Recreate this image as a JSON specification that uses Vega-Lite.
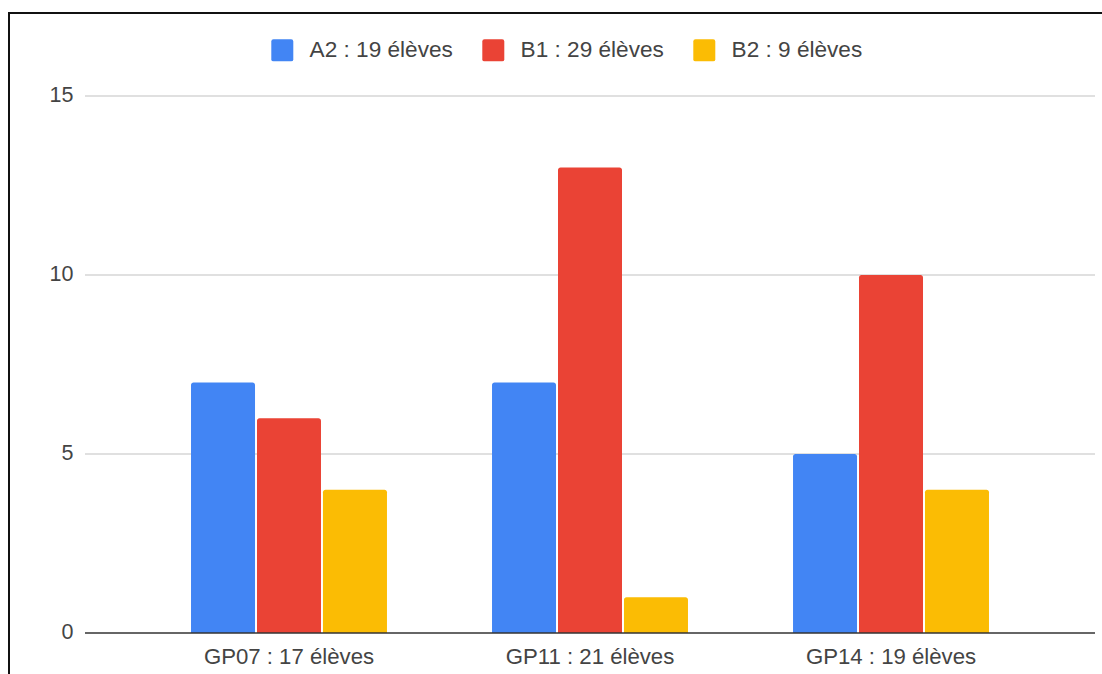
{
  "$schema": "https://vega.github.io/schema/vega-lite/v6.json",
  "autosize": {"type": "none"},
  "padding": {"left": 9, "top": 13, "right": -69, "bottom": -39},
  "width": 1162,
  "height": 700,
  "background": "#ffffff",
  "config": {
    "view": {"stroke": "#111111", "strokeWidth": 2},
    "font": "Liberation Sans"
  },
  "datasets": {
    "bars": [
      {"group": "GP07 : 17 élèves", "level": "A2 : 19 élèves", "count": 7},
      {"group": "GP07 : 17 élèves", "level": "B1 : 29 élèves", "count": 6},
      {"group": "GP07 : 17 élèves", "level": "B2 : 9 élèves", "count": 4},
      {"group": "GP11 : 21 élèves", "level": "A2 : 19 élèves", "count": 7},
      {"group": "GP11 : 21 élèves", "level": "B1 : 29 élèves", "count": 13},
      {"group": "GP11 : 21 élèves", "level": "B2 : 9 élèves", "count": 1},
      {"group": "GP14 : 19 élèves", "level": "A2 : 19 élèves", "count": 5},
      {"group": "GP14 : 19 élèves", "level": "B1 : 29 élèves", "count": 10},
      {"group": "GP14 : 19 élèves", "level": "B2 : 9 élèves", "count": 4}
    ],
    "grid": [{"v": 5}, {"v": 10}, {"v": 15}],
    "zero": [{"v": 0}]
  },
  "layer": [
    {
      "data": {"name": "grid"},
      "mark": {"type": "rule", "color": "#d6d6d6", "strokeWidth": 1.5},
      "encoding": {
        "x": {"datum": "GP07 : 17 élèves", "bandPosition": -0.541, "type": "nominal"},
        "x2": {"datum": "GP14 : 19 élèves"},
        "y": {"field": "v", "type": "quantitative"}
      }
    },
    {
      "data": {"name": "grid"},
      "mark": {"type": "rule", "color": "#d6d6d6", "strokeWidth": 1.5},
      "encoding": {
        "x": {"datum": "GP14 : 19 élèves", "bandPosition": 1.541, "type": "nominal"},
        "x2": {"datum": "GP14 : 19 élèves"},
        "y": {"field": "v", "type": "quantitative"}
      }
    },
    {
      "data": {"name": "bars"},
      "mark": {"type": "bar", "cornerRadiusTopLeft": 2.5, "cornerRadiusTopRight": 2.5},
      "encoding": {
        "x": {
          "field": "group",
          "type": "nominal",
          "sort": null,
          "scale": {
            "domain": ["GP07 : 17 élèves", "GP11 : 21 élèves", "GP14 : 19 élèves"],
            "paddingInner": 0.349,
            "paddingOuter": 0.6047
          },
          "axis": {
            "title": null,
            "orient": "bottom",
            "offset": -80,
            "bandPosition": 0.5,
            "domain": false,
            "ticks": false,
            "labelPadding": 23,
            "labelAngle": 0,
            "labelAlign": "center",
            "labelFontSize": 22.2,
            "labelColor": "#444444",
            "labelFont": "Liberation Sans"
          }
        },
        "xOffset": {"field": "level", "type": "nominal", "sort": null, "scale": {"paddingInner": 0.03, "paddingOuter": 0}},
        "y": {
          "field": "count",
          "type": "quantitative",
          "scale": {"domain": [-2.235, 17.318], "nice": false, "zero": false},
          "axis": {
            "title": null,
            "values": [0, 5, 10, 15],
            "offset": -76,
            "domain": false,
            "ticks": false,
            "grid": false,
            "labelPadding": 12,
            "labelFontSize": 21.5,
            "labelColor": "#444444",
            "labelFont": "Liberation Sans"
          }
        },
        "y2": {"datum": 0},
        "color": {
          "field": "level",
          "type": "nominal",
          "sort": null,
          "scale": {"range": ["#4285F4", "#EA4335", "#FBBC04"]},
          "legend": {
            "title": null,
            "orient": "none",
            "legendX": 262,
            "legendY": 26,
            "direction": "horizontal",
            "padding": 0,
            "symbolType": "M -0.8,-1 L 0.8,-1 Q 1,-1 1,-0.8 L 1,0.8 Q 1,1 0.8,1 L -0.8,1 Q -1,1 -1,0.8 L -1,-0.8 Q -1,-1 -0.8,-1 Z",
            "symbolSize": 484,
            "symbolStrokeWidth": 0,
            "symbolOpacity": 1,
            "labelOffset": 16,
            "columnPadding": 29,
            "labelFontSize": 22.6,
            "labelColor": "#444444",
            "labelFont": "Liberation Sans"
          }
        }
      }
    },
    {
      "data": {"name": "zero"},
      "mark": {"type": "rule", "color": "#333333", "strokeWidth": 1.5},
      "encoding": {
        "x": {"datum": "GP07 : 17 élèves", "bandPosition": -0.541, "type": "nominal"},
        "x2": {"datum": "GP14 : 19 élèves"},
        "y": {"field": "v", "type": "quantitative"}
      }
    },
    {
      "data": {"name": "zero"},
      "mark": {"type": "rule", "color": "#333333", "strokeWidth": 1.5},
      "encoding": {
        "x": {"datum": "GP14 : 19 élèves", "bandPosition": 1.541, "type": "nominal"},
        "x2": {"datum": "GP14 : 19 élèves"},
        "y": {"field": "v", "type": "quantitative"}
      }
    }
  ]
}
